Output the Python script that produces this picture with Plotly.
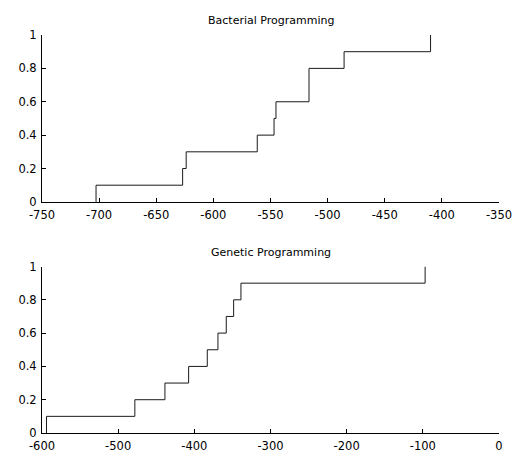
import numpy as np
import plotly.graph_objects as go
from plotly.subplots import make_subplots

# Sorted sample values (read from the empirical CDF steps)
bacterial_values = [-702.7, -626.9, -623.8, -561.6, -546.9, -545.2, -516.3, -516.3, -485.6, -409.9]
genetic_values = [-594.1, -478.1, -438.6, -407.5, -383.0, -369.0, -358.1, -348.4, -338.8, -97.0]

titles = ["Bacterial Programming", "Genetic Programming"]

# Tick labels
bacterial_xticks = [-750, -700, -650, -600, -550, -500, -450, -400, -350]
genetic_xticks = [-600, -500, -400, -300, -200, -100, 0]
y_ticks = [0, 0.2, 0.4, 0.6, 0.8, 1]
y_ticklabels = ["0", "0.2", "0.4", "0.6", "0.8", "1"]

FONT = "DejaVu Sans, Liberation Sans, Arial"


def ecdf(vals):
    v = np.sort(np.asarray(vals, dtype=float))
    n = len(v)
    xs = np.concatenate([[v[0]], v])
    ys = np.arange(0, n + 1) / n
    return xs, ys


fig = make_subplots(rows=2, cols=1, vertical_spacing=0.1624)

for i, vals in enumerate([bacterial_values, genetic_values], start=1):
    xs, ys = ecdf(vals)
    fig.add_trace(go.Scatter(x=xs, y=ys, mode="lines", line_shape="hv",
                             line=dict(color="#1a1a1a", width=1),
                             showlegend=False, hoverinfo="x+y"), row=i, col=1)

axis_common = dict(showline=True, linecolor="black", linewidth=1, mirror=False,
                   showgrid=False, zeroline=False, ticks="inside", ticklen=4,
                   tickcolor="black", tickwidth=1, automargin=False,
                   tickfont=dict(family=FONT, size=11.5, color="black"))

for i, xt in enumerate([bacterial_xticks, genetic_xticks]):
    fig.update_xaxes(range=[xt[0], xt[-1]], tickmode="array", tickvals=xt,
                     ticktext=[str(v) for v in xt],
                     ticklabelstandoff=2, row=i + 1, col=1, **axis_common)
    fig.update_yaxes(range=[0, 1], tickmode="array", tickvals=y_ticks,
                     ticktext=y_ticklabels,
                     ticklabelstandoff=2, row=i + 1, col=1, **axis_common)

fig.update_layout(
    width=516, height=452,
    margin=dict(l=42, r=17, t=35, b=19),
    paper_bgcolor="white", plot_bgcolor="white",
    font=dict(family=FONT, size=11, color="black"),
)
fig.layout.yaxis.domain = [0.5807, 1.0]
fig.layout.yaxis2.domain = [0.0, 0.4183]

for title, ypos in zip(titles, [1.0, 0.4183]):
    fig.add_annotation(text=title, xref="paper", yref="paper", x=0.5, y=ypos,
                       yshift=6, xanchor="center", yanchor="bottom", showarrow=False,
                       font=dict(family=FONT, size=11, color="black"))

fig.write_html("out.html", config={"displayModeBar": False},
               post_script="document.body.style.margin='0';document.body.style.overflow='hidden';")
